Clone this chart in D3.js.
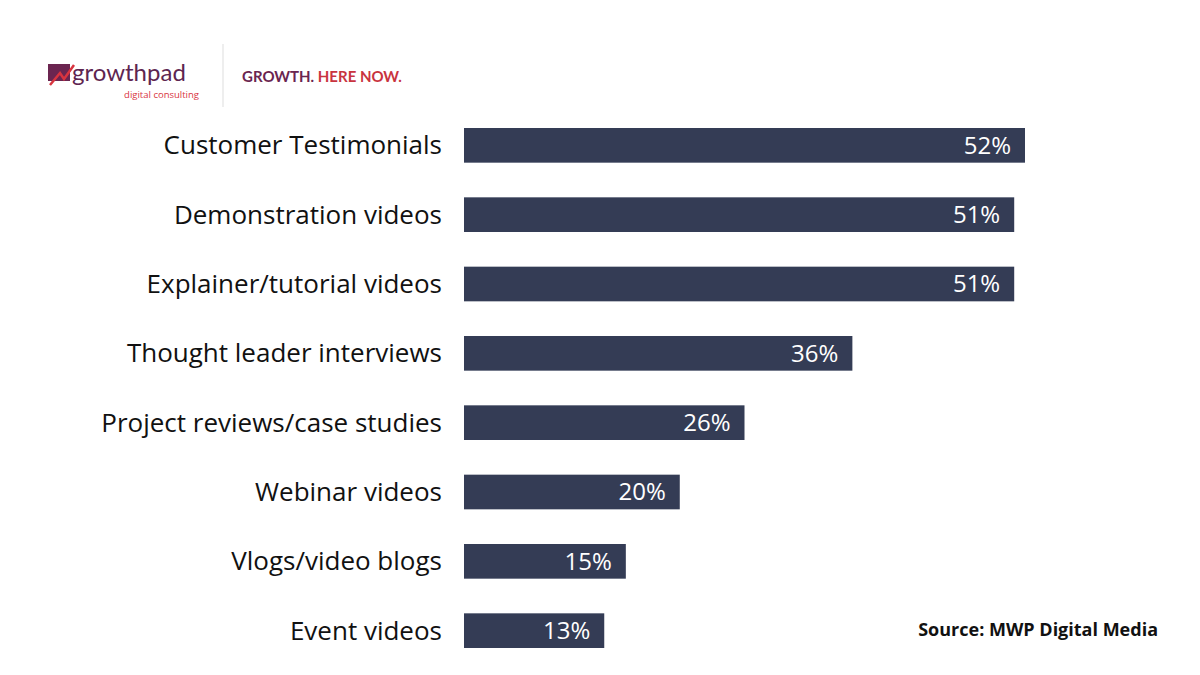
<!DOCTYPE html>
<html>
<head>
<meta charset="utf-8">
<script src="https://cdn.jsdelivr.net/npm/d3@7"></script>
<style>
  body { margin: 0; background: #fff; }
  svg { display: block; font-family: "Open Sans", "Noto Sans", sans-serif; }
</style>
</head>
<body>
<svg id="chart" width="1200" height="675"></svg>
<script>
var categories = ["Customer Testimonials", "Demonstration videos", "Explainer/tutorial videos",
  "Thought leader interviews", "Project reviews/case studies", "Webinar videos",
  "Vlogs/video blogs", "Event videos"];
var values = [52, 51, 51, 36, 26, 20, 15, 13];

var svg = d3.select("#chart");

// logo / header
var logo = svg.append("g");
logo.append("rect").attr("x", 48).attr("y", 64).attr("width", 22).attr("height", 17).attr("fill", "#6b2550");
logo.append("path").attr("d", "M50,85 L60,73 L64,79 L74,65").attr("stroke", "#d8343f")
  .attr("stroke-width", 2.5).attr("fill", "none");
logo.append("text").attr("x", 72).attr("y", 81).text("growthpad")
  .attr("font-size", 24).attr("fill", "#5e2550").attr("font-family", "Lato, sans-serif");
logo.append("text").attr("x", 199).attr("y", 98).text("digital consulting")
  .attr("text-anchor", "end").attr("font-size", 9.5).attr("fill", "#d8343f");
logo.append("line").attr("x1", 223).attr("x2", 223).attr("y1", 44).attr("y2", 107)
  .attr("stroke", "#ddd").attr("stroke-width", 1);
var tag = logo.append("text").attr("x", 242).attr("y", 82).attr("font-size", 15)
  .attr("font-weight", "bold").attr("font-family", "Lato, sans-serif");
tag.append("tspan").text("GROWTH. ").attr("fill", "#6b2550");
tag.append("tspan").text("HERE NOW.").attr("fill", "#c9343f");

var x = d3.scaleLinear().domain([0, 52]).range([464, 1025]);
var y = d3.scaleBand().domain(categories).range([128, 648]).paddingInner(0.5).paddingOuter(0);

var rows = svg.append("g").selectAll("g").data(categories).enter().append("g");

rows.append("rect")
  .attr("x", x(0))
  .attr("y", function (d) { return y(d); })
  .attr("width", function (d, i) { return x(values[i]) - x(0); })
  .attr("height", y.bandwidth())
  .attr("fill", "#343c55");

rows.append("text")
  .text(function (d) { return d; })
  .attr("x", 442)
  .attr("y", function (d) { return y(d) + y.bandwidth() / 2; })
  .attr("dy", "0.35em")
  .attr("text-anchor", "end")
  .attr("font-size", 26)
  .attr("fill", "#111");

rows.append("text")
  .text(function (d, i) { return values[i] + "%"; })
  .attr("x", function (d, i) { return x(values[i]) - 14; })
  .attr("y", function (d) { return y(d) + y.bandwidth() / 2; })
  .attr("dy", "0.35em")
  .attr("text-anchor", "end")
  .attr("font-size", 24)
  .attr("fill", "#fff");

svg.append("text").text("Source: MWP Digital Media")
  .attr("x", 1158).attr("y", 636).attr("text-anchor", "end")
  .attr("font-size", 18).attr("font-weight", "bold").attr("fill", "#111");
</script>
</body>
</html>
